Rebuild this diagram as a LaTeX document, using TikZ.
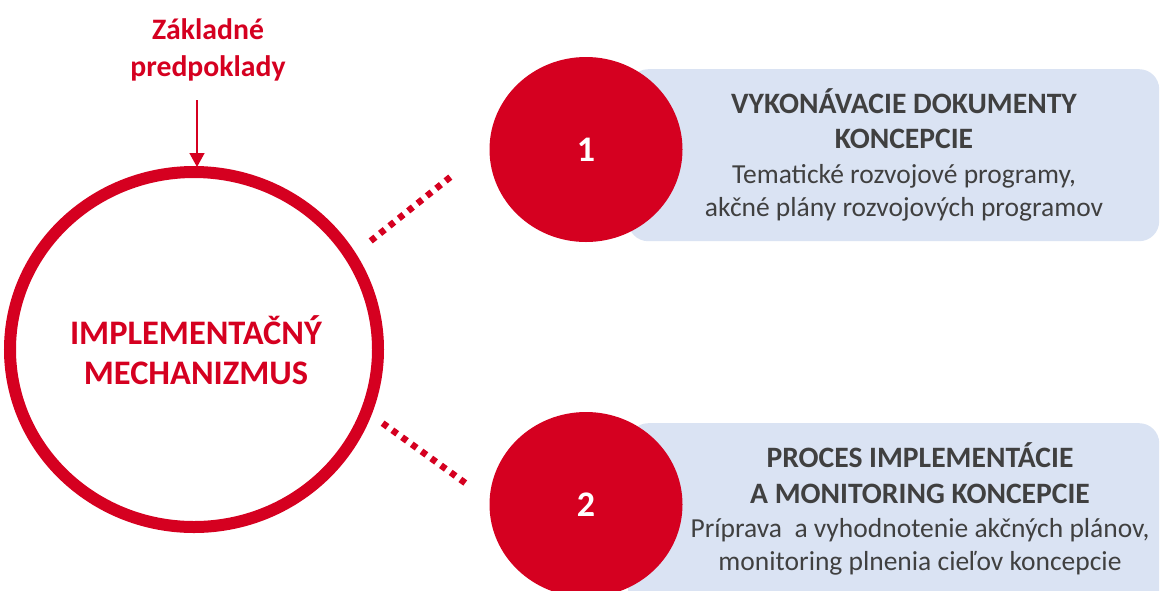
\documentclass[tikz,border=0pt]{standalone}
\usepackage{fontspec}
\setmainfont{Carlito}
\usetikzlibrary{shapes.geometric,arrows.meta}
\definecolor{ired}{RGB}{213,0,32}
\definecolor{iblue}{RGB}{218,227,243}
\definecolor{igray}{RGB}{64,64,64}
\tikzset{
  panel/.style={fill=iblue, draw=none, rounded corners=20pt, inner sep=0pt},
  badge/.style={ellipse, fill=ired, draw=none, minimum width=193pt, minimum height=185pt, inner sep=0pt, text=white, font=\fontsize{36}{40}\selectfont\bfseries},
  ring/.style={ellipse, draw=ired, line width=12pt, minimum width=368pt, minimum height=355pt, inner sep=0pt},
  dotline/.style={draw=ired, line width=6.5pt, dash pattern=on 6pt off 6pt},
  paneltext/.style={text=igray, align=center, inner sep=0pt, font=\fontsize{27.5}{33}\selectfont},
}
\newcommand{\ttl}{\fontsize{29.6}{33}\selectfont\bfseries}
\newcommand{\bdy}{\fontsize{27.5}{33}\selectfont}
\begin{document}
\begin{tikzpicture}[x=1pt,y=-1pt]
\useasboundingbox (0,0) rectangle (1161,590);
% panels
\node[panel, minimum width=531pt, minimum height=172pt, anchor=north west] (p1) at (628,69) {};
\node[panel, minimum width=531pt, minimum height=200pt, anchor=north west] (p2) at (628,423) {};
% badges
\node[badge] (c1) at (586,149.5) {1};
\node[badge] (c2) at (586,504.5) {2};
% main ring
\node[ring] (main) at (194,349.5) {};
\node[text=ired, align=center, font=\fontsize{34.4}{40}\selectfont\bfseries] (mainlabel) at (196,350) {IMPLEMENTAČNÝ\\MECHANIZMUS};
% top label and arrow
\node[text=ired, align=center, font=\fontsize{29.7}{37}\selectfont\bfseries] (pre) at (208,50) {Základné\\predpoklady};
\coordinate (arrS) at (197,100);
\coordinate (arrE) at (197,167);
\draw[ired, line width=1.5pt, -{Triangle[width=15pt,length=14pt]}] (arrS) -- (arrE);
% dotted links
\coordinate (d1a) at (370.7,240.9);
\coordinate (d1b) at (450.3,177.1);
\coordinate (d2a) at (382.6,423.2);
\coordinate (d2b) at (466.4,483.8);
\draw[dotline] (d1a) -- (d1b);
\draw[dotline] (d2a) -- (d2b);
% panel texts
\node[paneltext] (t1) at (904,155) {{\ttl VYKONÁVACIE DOKUMENTY}\\[2pt]{\ttl KONCEPCIE}\\[2pt]{\bdy Tematické rozvojové programy,}\\{\bdy akčné plány rozvojových programov}};
\node[paneltext] (t2) at (920,509) {{\ttl PROCES IMPLEMENTÁCIE}\\[3pt]{\ttl A MONITORING KONCEPCIE}\\[1pt]{\bdy Príprava\ \ a vyhodnotenie akčných plánov,}\\{\bdy monitoring plnenia cieľov koncepcie}};
\end{tikzpicture}
\end{document}
